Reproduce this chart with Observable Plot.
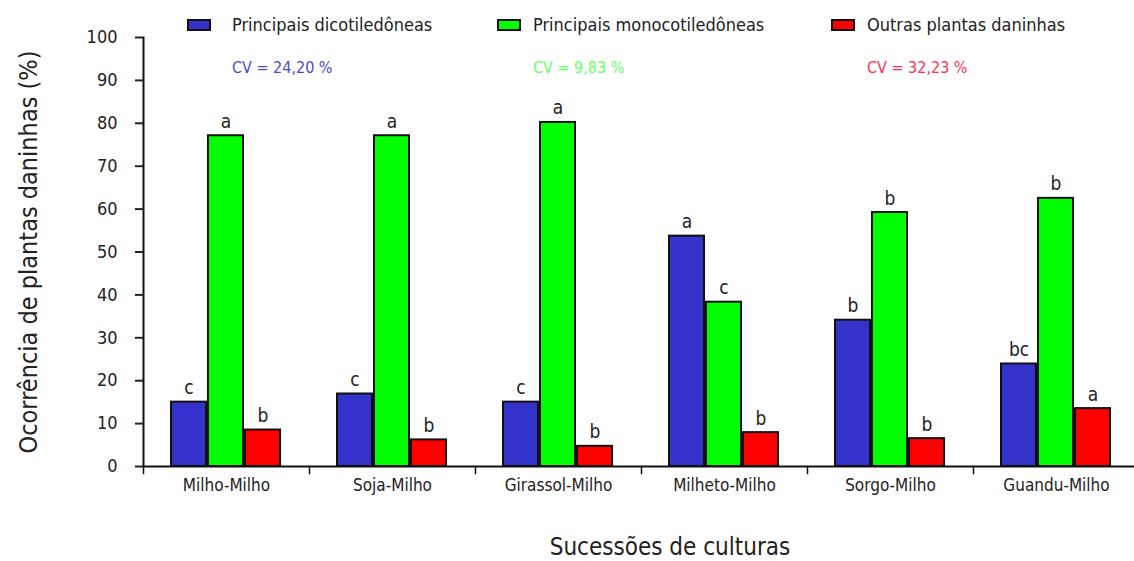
<!DOCTYPE html>
<html><head><meta charset="utf-8">
<script src="https://cdn.jsdelivr.net/npm/d3@7"></script>
<script src="https://cdn.jsdelivr.net/npm/@observablehq/plot@0.6"></script>
<style>
body{margin:0;background:#fff;}
#wrap{position:relative;width:1134px;height:561px;font-family:'Liberation Sans Narrow','DejaVu Sans Condensed',sans-serif;color:#222;overflow:hidden;}
.sw{position:absolute;width:20px;height:8px;border:2px solid #111;}
.lt{position:absolute;font-size:18px;line-height:20px;white-space:nowrap;}
.cv{position:absolute;font-size:16px;line-height:20px;white-space:nowrap;}
#xt{position:absolute;left:670px;top:535px;transform:translateX(-50%);font-size:24px;line-height:25px;white-space:nowrap;}
</style></head>
<body><div id="wrap"></div>
<script>
const categories = ["Milho-Milho","Soja-Milho","Girassol-Milho","Milheto-Milho","Sorgo-Milho","Guandu-Milho"];
const series = ["Principais dicotiledôneas","Principais monocotiledôneas","Outras plantas daninhas"];
const dicot = [15.0, 16.9, 15.0, 53.7, 34.1, 23.9];
const monocot = [77.1, 77.1, 80.2, 38.3, 59.2, 62.5];
const outras = [8.5, 6.2, 4.7, 7.9, 6.5, 13.5];
const dicotLetters = ["c","c","c","a","b","bc"];
const monocotLetters = ["a","a","a","c","b","b"];
const outrasLetters = ["b","b","b","b","b","a"];
const cvLabels = ["CV = 24,20 %","CV = 9,83 %","CV = 32,23 %"];
const barColors = ["#3333cc","#00ff00","#ff0000"];
const cvColors = ["#4b4bd6","#66ff66","#ff3355"];
const yTicks = [0,10,20,30,40,50,60,70,80,90,100];
const yTitle = "Ocorrência de plantas daninhas (%)";
const xTitle = "Sucessões de culturas";

const values = [dicot, monocot, outras];
const letters = [dicotLetters, monocotLetters, outrasLetters];
const rows = [];
categories.forEach((c, i) => series.forEach((s, j) => rows.push({cat: c, series: s, value: values[j][i], letter: letters[j][i]})));

const font = "'Liberation Sans Narrow','DejaVu Sans Condensed',sans-serif";
const chart = Plot.plot({
  width: 1134, height: 561,
  marginLeft: 143, marginRight: -5, marginTop: 37, marginBottom: 95,
  style: {fontFamily: font, color: "#222", background: "#fff", overflow: "visible"},
  fx: {domain: categories, padding: 0},
  x: {domain: series, paddingInner: 0.05, paddingOuter: 0.75, axis: null},
  y: {domain: [0, 100], axis: null},
  color: {domain: series, range: barColors},
  marks: [
    Plot.barY(rows, {fx: "cat", x: "series", y: "value", fill: "series", stroke: "#111", strokeWidth: 2}),
    Plot.text(rows, {fx: "cat", x: "series", y: "value", text: "letter", lineAnchor: "bottom", dy: -8, fontSize: 19, fill: "#222"}),
    Plot.ruleY([0], {stroke: "#111", strokeWidth: 2}),
    Plot.frame({anchor: "left", facetAnchor: "left", stroke: "#111", strokeWidth: 2}),
    Plot.frame({anchor: "left", insetTop: 429, insetBottom: -7, stroke: "#111", strokeWidth: 1.5}),
    Plot.axisY({ticks: yTicks, tickSize: 8, tickPadding: 18, fontSize: 18, strokeWidth: 2, label: null}),
    Plot.axisY({ticks: [], label: yTitle, labelAnchor: "center", labelArrow: "none", labelOffset: 124, fontSize: 25}),
    Plot.axisFx({anchor: "bottom", tickSize: 0, tickPadding: 12, fontSize: 17, label: null})
  ]
});
const wrap = document.getElementById("wrap");
wrap.appendChild(chart);

const xt = document.createElement("div");
xt.id = "xt"; xt.textContent = xTitle;
wrap.appendChild(xt);

const legendPos = [[187, 232], [497, 533], [831, 867]];
series.forEach((s, j) => {
  const sw = document.createElement("div");
  sw.className = "sw"; sw.style.left = legendPos[j][0] + "px"; sw.style.top = "19px"; sw.style.background = barColors[j];
  wrap.appendChild(sw);
  const t = document.createElement("div");
  t.className = "lt"; t.style.left = legendPos[j][1] + "px"; t.style.top = "15px"; t.textContent = s;
  wrap.appendChild(t);
  const cv = document.createElement("div");
  cv.className = "cv"; cv.style.left = legendPos[j][1] + "px"; cv.style.top = "58px"; cv.style.color = cvColors[j]; cv.textContent = cvLabels[j];
  wrap.appendChild(cv);
});
</script></body></html>
